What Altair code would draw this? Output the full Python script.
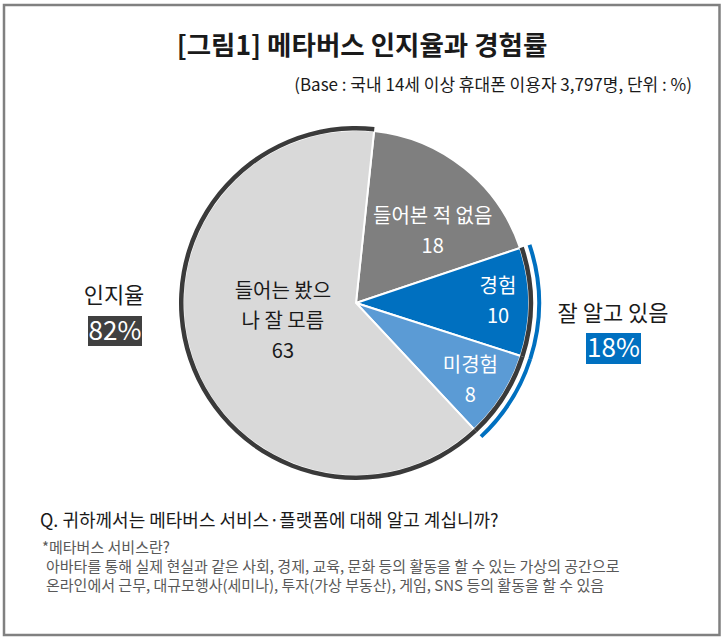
import math
import altair as alt
import pandas as pd

FONT = "Noto Sans CJK KR"

# ---- data ----
categories = ["들어본 적 없음", "경험", "미경험", "들어는 봤으나 잘 모름"]
label_names = ["들어본 적 없음", "경험", "미경험", "들어는 봤으\n나 잘 모름"]
values = [18, 10, 8, 63]
slice_colors = ["#7f7f7f", "#0070c0", "#5b9bd5", "#d9d9d9"]

summary_names = ["인지율", "잘 알고 있음"]
summary_values = [82, 18]

title_text = "[그림1] 메타버스 인지율과 경험률"
subtitle_text = "(Base : 국내 14세 이상 휴대폰 이용자 3,797명, 단위 : %)"
question_text = "Q. 귀하께서는 메타버스 서비스·플랫폼에 대해 알고 계십니까?"
note_lines = [
    "*메타버스 서비스란?",
    "아바타를 통해 실제 현실과 같은 사회, 경제, 교육, 문화 등의 활동을 할 수 있는 가상의 공간으로",
    "온라인에서 근무, 대규모행사(세미나), 투자(가상 부동산), 게임, SNS 등의 활동을 할 수 있음",
]

df = pd.DataFrame({
    "cat": categories,
    "value": values,
    "idx": list(range(len(categories))),
    "label": [f"{n}\n{v}" for n, v in zip(label_names, values)],
})

START = math.radians(6)
theta = alt.Theta("value:Q", stack=True,
                  scale=alt.Scale(range=[START, START + 2 * math.pi]))
order = alt.Order("idx:Q")

base = alt.Chart(df)

pie = base.mark_arc(outerRadius=173, stroke="white", strokeWidth=2).encode(
    theta=theta, order=order,
    color=alt.Color("cat:N", scale=alt.Scale(domain=categories, range=slice_colors), legend=None),
)

border = base.mark_arc(outerRadius=177, innerRadius=172.5).encode(
    theta=theta, order=order,
    color=alt.condition(alt.datum.cat == categories[0], alt.value("transparent"), alt.value("#3a3a3a")),
)

blue_arc = base.mark_arc(outerRadius=185, innerRadius=181).encode(
    theta=theta, order=order,
    color=alt.condition(alt.FieldOneOfPredicate(field="cat", oneOf=[categories[1], categories[2]]),
                        alt.value("#0070c0"), alt.value("transparent")),
)


def slice_label(i, radius, dx, dy, fill):
    return base.mark_text(radius=radius, dx=dx, dy=dy, fontSize=20, font=FONT,
                          lineBreak="\n", lineHeight=30, align="center",
                          baseline="middle", fill=fill).encode(
        theta=theta, order=order, text=alt.Text("label:N"),
        opacity=alt.condition(alt.datum.cat == categories[i], alt.value(1), alt.value(0)),
    )


labels = [
    slice_label(0, 105, 11, -4, "white"),
    slice_label(1, 141, 1, -15, "white"),
    slice_label(2, 139, -3, -11, "white"),
    slice_label(3, 75, -2, -35, "#1a1a1a"),
]

one = pd.DataFrame({"a": [0]})


def txt(text, x, y, size, color="#1a1a1a", align="center", weight="normal"):
    return alt.Chart(one).mark_text(text=text, fontSize=size, font=FONT, fill=color,
                                    align=align, baseline="middle", fontWeight=weight).encode(
        x=alt.value(x), y=alt.value(y))


def box(x, x2, y, y2, color):
    return alt.Chart(one).mark_rect(fill=color).encode(
        x=alt.value(x), x2=alt.value(x2), y=alt.value(y), y2=alt.value(y2))


frame = alt.Chart(one).mark_rect(fillOpacity=0, stroke="#808080", strokeWidth=2.5).encode(
    x=alt.value(4), x2=alt.value(719.5), y=alt.value(5), y2=alt.value(635))

annotations = [
    txt(title_text, 362, 47, 26.5, weight="bold"),
    txt(subtitle_text, 692, 86, 17, align="right"),
    txt(summary_names[0], 114, 296, 22),
    box(88, 142, 316, 346, "#404040"),
    txt(f"{summary_values[0]}%", 115, 332, 26, color="white"),
    txt(summary_names[1], 613, 314, 22),
    box(586, 641, 333, 364, "#0070c0"),
    txt(f"{summary_values[1]}%", 613.5, 349, 26, color="white"),
    txt(question_text, 40, 522, 18, align="left"),
    txt(note_lines[0], 42, 548, 15, color="#595959", align="left"),
    txt(note_lines[1], 46, 567, 15, color="#595959", align="left"),
    txt(note_lines[2], 46, 586, 15, color="#595959", align="left"),
]

chart = alt.layer(pie, border, blue_arc, *labels, *annotations, frame).properties(
    width=712, height=606,
    autosize=alt.AutoSizeParams(type="none"),
    padding={"left": 0, "top": 0, "right": 12, "bottom": 36},
    background="white",
).configure_view(stroke=None)

chart.save("out.html", embed_options={"renderer": "svg", "actions": False})
